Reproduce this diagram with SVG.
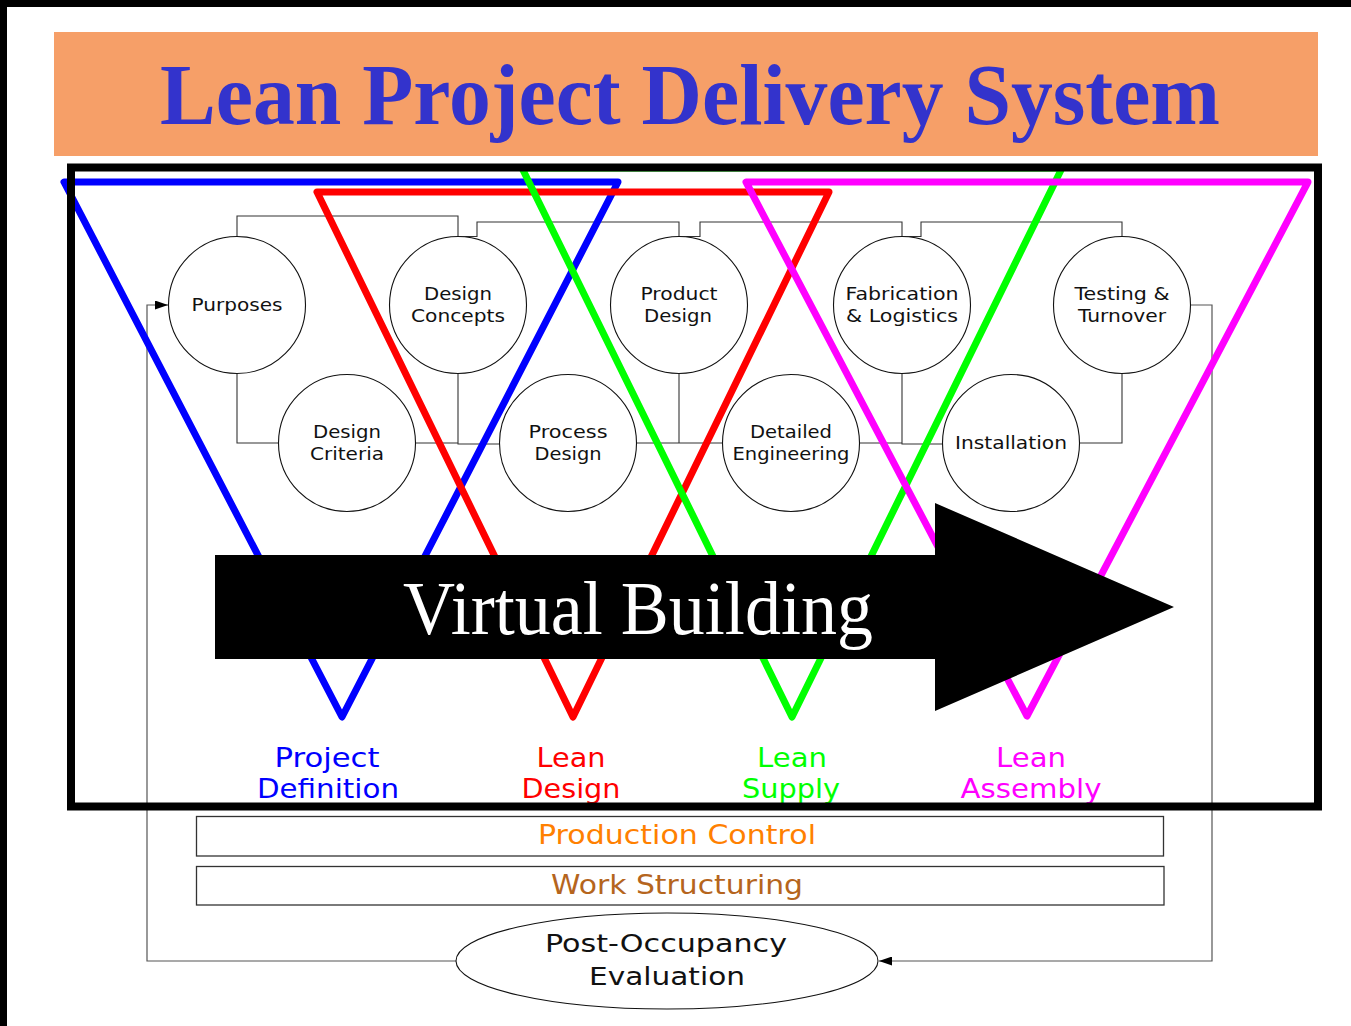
<svg xmlns="http://www.w3.org/2000/svg" width="1351" height="1026" viewBox="0 0 1351 1026">
<style>
.node circle{fill:#fff;stroke:#111;stroke-width:1.1}
.node text,.lbl{font-family:"DejaVu Sans","Liberation Sans",sans-serif;text-anchor:middle}
.node text{font-size:18px;fill:#111}
.conn{fill:none;stroke:#333;stroke-width:1.1}
.fb{fill:none;stroke:#555;stroke-width:1.2}
.tri{fill:none;stroke-width:7;stroke-linejoin:round;stroke-linecap:round}
.lbl{font-size:27px}
.box rect{fill:#fff;stroke:#333;stroke-width:1.3}
</style>
<defs>
<marker id="ah" markerWidth="14" markerHeight="9" refX="13" refY="4.5" orient="auto" markerUnits="userSpaceOnUse">
<path d="M0,0 L13,4.5 L0,9 z" fill="#000"/>
</marker>
</defs>
<rect x="0" y="0" width="1351" height="1026" fill="#fff"/>
<rect x="0" y="0" width="1351" height="7" fill="#000"/>
<rect x="0" y="0" width="7" height="1026" fill="#000"/>

<g id="title">
<rect x="54" y="32" width="1264" height="124" fill="#F69F68"/>
<text x="690" y="124" font-family="'Liberation Serif','Times New Roman',serif" font-weight="bold" font-size="86" fill="#3333CC" text-anchor="middle" textLength="1060" lengthAdjust="spacingAndGlyphs">Lean Project Delivery System</text>
</g>

<g id="connectors">
<path class="conn" d="M237,236.5 V216 H458 V236.5"/>
<path class="conn" d="M458,236.5 H477 V222 H679 V236.5 H700 V222 H902 V236.5 H921 V222 H1122 V236.5"/>
<path class="conn" d="M237,373.5 V443 H278.5"/>
<path class="conn" d="M415.5,443 H458"/>
<path class="conn" d="M458,373.5 V444 H499.5"/>
<path class="conn" d="M636.5,443 H722.5"/>
<path class="conn" d="M679,373.5 V443"/>
<path class="conn" d="M859.5,443 H902"/>
<path class="conn" d="M902,373.5 V444 H942.5"/>
<path class="conn" d="M1079.5,443 H1122 V373.5"/>
<path class="fb" d="M456,961 H147 V305 H168" marker-end="url(#ah)"/>
<path class="fb" d="M1191,305 H1212 V961 H879" marker-end="url(#ah)"/>
</g>

<g id="n-purposes" class="node"><circle cx="237" cy="305" r="68.5"/><text x="237" y="311" textLength="91" lengthAdjust="spacingAndGlyphs">Purposes</text></g>
<g id="n-design-concepts" class="node"><circle cx="458" cy="305" r="68.5"/><text x="458" y="300" textLength="68" lengthAdjust="spacingAndGlyphs">Design</text><text x="458" y="322" textLength="94" lengthAdjust="spacingAndGlyphs">Concepts</text></g>
<g id="n-product-design" class="node"><circle cx="679" cy="305" r="68.5"/><text x="679" y="300" textLength="77" lengthAdjust="spacingAndGlyphs">Product</text><text x="678" y="322" textLength="68" lengthAdjust="spacingAndGlyphs">Design</text></g>
<g id="n-fabrication" class="node"><circle cx="902" cy="305" r="68.5"/><text x="902" y="300" textLength="113" lengthAdjust="spacingAndGlyphs">Fabrication</text><text x="902" y="322" textLength="112" lengthAdjust="spacingAndGlyphs">&amp; Logistics</text></g>
<g id="n-testing" class="node"><circle cx="1122" cy="305" r="68.5"/><text x="1122" y="300" textLength="95" lengthAdjust="spacingAndGlyphs">Testing &amp;</text><text x="1122" y="322" textLength="88" lengthAdjust="spacingAndGlyphs">Turnover</text></g>
<g id="n-design-criteria" class="node"><circle cx="347" cy="443" r="68.5"/><text x="347" y="438" textLength="68" lengthAdjust="spacingAndGlyphs">Design</text><text x="347" y="460" textLength="74" lengthAdjust="spacingAndGlyphs">Criteria</text></g>
<g id="n-process-design" class="node"><circle cx="568" cy="443" r="68.5"/><text x="568" y="438" textLength="79" lengthAdjust="spacingAndGlyphs">Process</text><text x="568" y="460" textLength="67" lengthAdjust="spacingAndGlyphs">Design</text></g>
<g id="n-detailed-engineering" class="node"><circle cx="791" cy="443" r="68.5"/><text x="791" y="438" textLength="82" lengthAdjust="spacingAndGlyphs">Detailed</text><text x="791" y="460" textLength="117" lengthAdjust="spacingAndGlyphs">Engineering</text></g>
<g id="n-installation" class="node"><circle cx="1011" cy="443" r="68.5"/><text x="1011" y="449" textLength="112" lengthAdjust="spacingAndGlyphs">Installation</text></g>

<g id="phases">
<polygon class="tri" stroke="#0000FF" points="64,182 618,182 342,717"/>
<polygon class="tri" stroke="#FF0000" points="317,192 829,192 573,717"/>
<polygon class="tri" stroke="#00FF00" points="522,168 1062,168 792,717"/>
<polygon class="tri" stroke="#FF00FF" points="746,182 1308,182 1027,716"/>
</g>

<g id="virtual-building">
<polygon points="215,555 935,555 935,503 1174,607 935,711 935,659 215,659" fill="#000"/>
<text x="638" y="634" font-family="'Liberation Serif','Times New Roman',serif" font-size="77" fill="#fff" text-anchor="middle" textLength="470" lengthAdjust="spacingAndGlyphs">Virtual Building</text>
</g>

<g id="phase-labels">
<text class="lbl" x="327" y="767" fill="#0000FF" textLength="105" lengthAdjust="spacingAndGlyphs">Project</text>
<text class="lbl" x="328" y="798" fill="#0000FF" textLength="142" lengthAdjust="spacingAndGlyphs">Definition</text>
<text class="lbl" x="571" y="767" fill="#FF0000" textLength="69" lengthAdjust="spacingAndGlyphs">Lean</text>
<text class="lbl" x="571" y="798" fill="#FF0000" textLength="99" lengthAdjust="spacingAndGlyphs">Design</text>
<text class="lbl" x="792" y="767" fill="#00FF00" textLength="70" lengthAdjust="spacingAndGlyphs">Lean</text>
<text class="lbl" x="791" y="798" fill="#00FF00" textLength="98" lengthAdjust="spacingAndGlyphs">Supply</text>
<text class="lbl" x="1031" y="767" fill="#FF00FF" textLength="70" lengthAdjust="spacingAndGlyphs">Lean</text>
<text class="lbl" x="1031" y="798" fill="#FF00FF" textLength="141" lengthAdjust="spacingAndGlyphs">Assembly</text>
</g>

<rect id="frame" x="71" y="167.5" width="1247" height="639" fill="none" stroke="#000" stroke-width="8"/>

<g id="production-control" class="box">
<rect x="196.5" y="816.5" width="967" height="39.5"/>
<text class="lbl" x="677" y="844" fill="#FF8000" textLength="278" lengthAdjust="spacingAndGlyphs">Production Control</text>
</g>
<g id="work-structuring" class="box">
<rect x="196.5" y="866.5" width="967.5" height="38.5"/>
<text class="lbl" x="677" y="894" fill="#B5651D" textLength="252" lengthAdjust="spacingAndGlyphs">Work Structuring</text>
</g>
<g id="post-occupancy" class="node">
<ellipse cx="667" cy="961" rx="211" ry="48" fill="#fff" stroke="#111" stroke-width="1.1"/>
<text x="666" y="952" style="font-size:25px" textLength="242" lengthAdjust="spacingAndGlyphs">Post-Occupancy</text>
<text x="667" y="985" style="font-size:25px" textLength="156" lengthAdjust="spacingAndGlyphs">Evaluation</text>
</g>
</svg>
